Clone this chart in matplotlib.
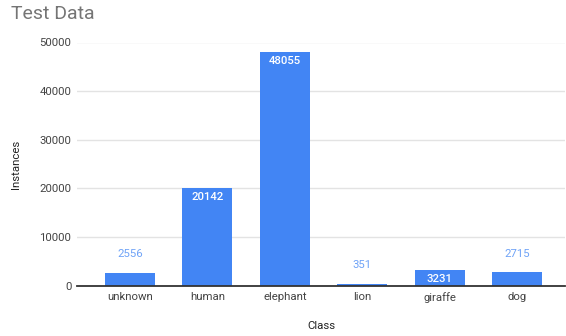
import matplotlib
matplotlib.use("Agg")
import matplotlib.pyplot as plt

categories = ["unknown", "human", "elephant", "lion", "giraffe", "dog"]
instances = [2556, 20142, 48055, 351, 3231, 2715]
y_ticks = [0, 10000, 20000, 30000, 40000, 50000]

plt.rcParams["font.family"] = ["Roboto", "DejaVu Sans"]

W, H = 566, 336
fig = plt.figure(figsize=(W / 100, H / 100), dpi=100)
left, right, top, bottom = 77, 565, 42.5, 285.5
ax = fig.add_axes([left / W, (H - bottom) / H, (right - left) / W, (bottom - top) / H])

bar_color = "#4285F4"
x = list(range(len(categories)))
ax.bar(x, instances, width=0.646, color=bar_color, zorder=3)

fs = 8.2
ax.set_xlim(-0.685, 5.62)
ax.set_ylim(0, 50000)
ax.set_yticks(y_ticks)
ax.set_yticklabels([str(v) for v in y_ticks])
ax.set_xticks(x)
ax.set_xticklabels(categories)
ax.tick_params(axis="both", length=0, labelsize=fs, labelcolor="#444444")
ax.tick_params(axis="y", pad=4.0)
ax.tick_params(axis="x", pad=4.5)

ax.grid(axis="y", color="#e3e3e3", linewidth=1, zorder=0)
ax.set_axisbelow(True)
for side in ("top", "right", "left"):
    ax.spines[side].set_visible(False)
ax.spines["bottom"].set_color("#333333")
ax.spines["bottom"].set_linewidth(1.3)
ax.spines["bottom"].set_zorder(4)

# value labels: inside the bar when it is tall enough, above it otherwise
for xi, v in zip(x, instances):
    if v > 3000:
        ax.annotate(str(v), (xi, v), xytext=(0, -6.5), textcoords="offset points",
                    ha="center", va="center", color="white", fontsize=fs,
                    fontweight="medium", zorder=5)
    else:
        ax.annotate(str(v), (xi, v), xytext=(0, 13.5), textcoords="offset points",
                    ha="center", va="center", color="#6fa3f7", fontsize=fs, zorder=5)

ax.set_xlabel("Class", fontsize=fs, color="#222222", labelpad=13.5)
ax.set_ylabel("Instances", fontsize=fs, color="#222222", labelpad=13.5)

fig.text(11 / W, 1 - 14 / H, "Test Data", fontsize=14, color="#757575",
         ha="left", va="center")

fig.savefig("out.png", dpi=100)
